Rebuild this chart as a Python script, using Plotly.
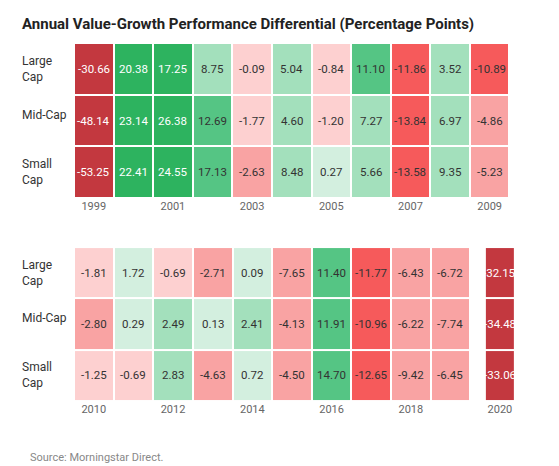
import plotly.graph_objects as go

caps = ["Large Cap", "Mid-Cap", "Small Cap"]
cap_labels = ["Large<br>Cap", "Mid-Cap", "Small<br>Cap"]

years_a = list(range(1999, 2010))
vals_a = [
    [-30.66, 20.38, 17.25, 8.75, -0.09, 5.04, -0.84, 11.10, -11.86, 3.52, -10.89],
    [-48.14, 23.14, 26.38, 12.69, -1.77, 4.60, -1.20, 7.27, -13.84, 6.97, -4.86],
    [-53.25, 22.41, 24.55, 17.13, -2.63, 8.48, 0.27, 5.66, -13.58, 9.35, -5.23],
]
years_b = list(range(2010, 2020))
vals_b = [
    [-1.81, 1.72, -0.69, -2.71, 0.09, -7.65, 11.40, -11.77, -6.43, -6.72],
    [-2.80, 0.29, 2.49, 0.13, 2.41, -4.13, 11.91, -10.96, -6.22, -7.74],
    [-1.25, -0.69, 2.83, -4.63, 0.72, -4.50, 14.70, -12.65, -9.42, -6.45],
]
years_c = [2020]
vals_c = [[-32.15], [-34.48], [-33.06]]

# bucketed colours
edges = [-20, -10, -2, 0, 2, 10, 17.2]
colors = ["#c3383f", "#f65a5b", "#f9a3a3", "#fdd0d0", "#d3efdf", "#a3e0bc", "#55c584", "#2db35f"]


def bucket(v):
    return sum(1 for e in edges if v > e)


def cscale():
    n = len(colors)
    out = []
    for i, c in enumerate(colors):
        out.append([i / n, c])
        out.append([(i + 1) / n, c])
    return out


FONT = "Liberation Sans Narrow, Roboto, sans-serif"

fig = go.Figure()
panels = [(years_a, vals_a, "x", "y"), (years_b, vals_b, "x2", "y2"), (years_c, vals_c, "x3", "y3")]
for yrs, vals, xa, ya in panels:
    z = [[bucket(v) + 0.5 for v in row] for row in vals]
    fig.add_trace(go.Heatmap(
        x=yrs, y=caps, z=z, zmin=0, zmax=len(colors), colorscale=cscale(),
        showscale=False, xgap=2, ygap=2, hoverinfo="skip", xaxis=xa, yaxis=ya,
    ))
    for i, row in enumerate(vals):
        for j, v in enumerate(row):
            fig.add_annotation(x=yrs[j], y=caps[i], xref=xa, yref=ya, text=f"{v:.2f}",
                               showarrow=False,
                               font=dict(family=FONT, size=11.5,
                                         color="white" if bucket(v) in (0, 7) else "#333"))

ax_common = dict(showgrid=False, zeroline=False, showline=False, ticks="",
                 tickfont=dict(family=FONT, size=11, color="#666"))
fig.update_layout(
    width=559, height=466, margin=dict(l=0, r=0, t=0, b=0),
    paper_bgcolor="white", plot_bgcolor="white",
    xaxis=dict(domain=[0.118, 0.897], tickvals=years_a[::2], **ax_common),
    yaxis=dict(domain=[0.592, 0.925], autorange="reversed", showticklabels=False, **ax_common),
    xaxis2=dict(domain=[0.118, 0.827], tickvals=years_b[::2], anchor="y2", **ax_common),
    yaxis2=dict(domain=[0.157, 0.487], autorange="reversed", showticklabels=False, anchor="x2", **ax_common),
    xaxis3=dict(domain=[0.853, 0.907], tickvals=years_c, range=[2019.5, 2020.5], anchor="y3", **ax_common),
    yaxis3=dict(domain=[0.157, 0.487], autorange="reversed", showticklabels=False, anchor="x3", **ax_common),
)

for dom in [(0.592, 0.925), (0.157, 0.487)]:
    for i, lab in enumerate(cap_labels):
        yc = dom[1] - (i + 0.5) * (dom[1] - dom[0]) / 3
        fig.add_annotation(x=12 / 559, y=yc + (0.012 if "<br>" not in lab else 0),
                           xref="paper", yref="paper", text=lab, showarrow=False,
                           xanchor="left", yanchor="middle", align="left",
                           font=dict(family=FONT, size=12, color="#333"))

fig.add_annotation(x=12 / 559, y=1 - 16 / 466, xref="paper", yref="paper",
                   text="<b>Annual Value-Growth Performance Differential (Percentage Points)</b>",
                   showarrow=False, xanchor="left", yanchor="middle",
                   font=dict(family=FONT, size=15, color="#222"))
fig.add_annotation(x=20 / 559, y=1 - 449 / 466, xref="paper", yref="paper",
                   text="Source: Morningstar Direct.", showarrow=False, xanchor="left",
                   yanchor="middle", font=dict(family=FONT, size=11, color="#888"))

fig.write_html("out.html")
